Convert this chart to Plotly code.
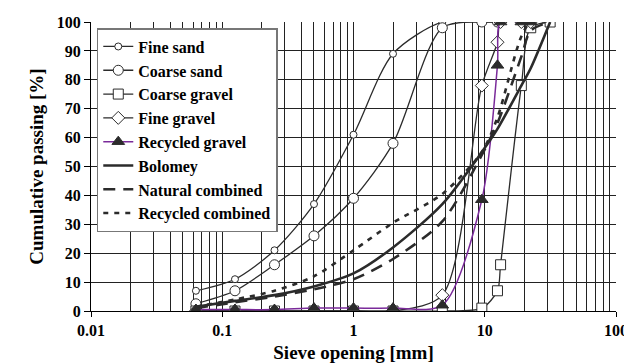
import plotly.graph_objects as go

# ---- data ----
sieve = [0.063, 0.125, 0.25, 0.5, 1, 2, 4.75, 9.5, 12.5, 13.2, 19, 22.4, 31.5]

fine_sand_x = [0.063, 0.125, 0.25, 0.5, 1, 2, 4.75, 9.5, 12.5]
fine_sand = [7, 11, 21, 37, 61, 89, 100, 100, 100]

coarse_sand_x = [0.063, 0.125, 0.25, 0.5, 1, 2, 4.75, 9.5, 12.5]
coarse_sand = [2.5, 7, 16, 26, 39, 58, 98, 100, 100]

coarse_gravel_x = sieve
coarse_gravel = [0, 0, 0, 0, 0, 0, 0, 1, 7, 16, 78, 98, 100]

fine_gravel_x = [0.063, 0.125, 0.25, 0.5, 1, 2, 4.75, 9.5, 12.5, 13.2, 19, 22.4]
fine_gravel = [0, 0, 0, 0, 0, 0, 5.5, 78, 93, 100, 100, 100]

recycled_gravel_x = [0.063, 0.125, 0.25, 0.5, 1, 2, 4.75, 9.5, 12.5, 13.2, 19, 22.4]
recycled_gravel = [0.5, 0.5, 0.5, 1, 1, 1, 2, 38.5, 85, 100, 100, 100]

comb_x = [0.063, 0.125, 0.25, 0.5, 1, 2, 4.75, 9.5, 12.5, 19, 22.4, 31.5]
bolomey = [1.5, 3.5, 5.5, 8.5, 13, 22, 37, 55, 63, 78, 84, 100]
natural_combined = [1, 3, 5, 7.5, 11, 18, 31, 54, 65, 88, 97, 100]
recycled_combined = [1.5, 4, 7, 12, 21, 30.5, 40.5, 55, 67, 95, 100, 100]

decade_ticks = [0.01, 0.1, 1, 10, 100]
decade_labels = ["0.01", "0.1", "1", "10", "100"]
minor_vals = [m * 10 ** e for e in range(-2, 2) for m in range(2, 10)]

DARK = "#2b2b2b"
PURPLE = "#7a2a9a"
FONT = "Liberation Serif, Times New Roman, serif"

fig = go.Figure()

def mtrace(x, y, name, symbol, size, fill="white", color=DARK, lw=1.3):
    fig.add_trace(go.Scatter(
        x=x, y=y, name=name, mode="lines+markers",
        line=dict(color=color, width=lw, shape="spline", smoothing=0.8),
        marker=dict(symbol=symbol, size=size, color=fill,
                    line=dict(color=DARK, width=1)),
    ))

mtrace(fine_sand_x, fine_sand, "Fine sand", "circle", 7)
mtrace(coarse_sand_x, coarse_sand, "Coarse sand", "circle", 10)
mtrace(coarse_gravel_x, coarse_gravel, "Coarse gravel", "square", 10)
mtrace(fine_gravel_x, fine_gravel, "Fine gravel", "diamond", 10)
mtrace(recycled_gravel_x, recycled_gravel, "Recycled gravel", "triangle-up", 11,
       fill=DARK, color=PURPLE, lw=1.5)

def ltrace(y, name, dash):
    fig.add_trace(go.Scatter(
        x=comb_x, y=y, name=name, mode="lines",
        line=dict(color=DARK, width=2.6, dash=dash, shape="spline", smoothing=0.8),
    ))

ltrace(bolomey, "Bolomey", "solid")
ltrace(natural_combined, "Natural combined", "12px,8px")
ltrace(recycled_combined, "Recycled combined", "5px,6px")

fig.update_layout(
    width=632, height=363,
    margin=dict(l=83, r=24, t=14, b=60),
    paper_bgcolor="white", plot_bgcolor="white",
    font=dict(family=FONT, size=16, color="black", weight="bold"),
    showlegend=True,
    legend=dict(
        x=0.011, y=0.979, xanchor="left", yanchor="top",
        bgcolor="white", bordercolor="#777", borderwidth=1.5,
        font=dict(family=FONT, size=16, color="black", weight="bold"),
        tracegroupgap=0, itemwidth=30,
    ),
    xaxis=dict(
        type="log", range=[-2, 2], automargin=False,
        tickvals=decade_ticks, ticktext=decade_labels,
        ticks="outside", ticklen=5, tickcolor="black",
        showline=True, linecolor="black", linewidth=1.3,
        showgrid=True, gridcolor="#222", gridwidth=1,
        minor=dict(tickvals=minor_vals, showgrid=True, gridcolor="#222",
                   gridwidth=1, ticks=""),
        title=dict(text="Sieve opening [mm]", standoff=7),
        zeroline=False,
    ),
    yaxis=dict(
        range=[0, 100], dtick=10, automargin=False,
        ticks="outside", ticklen=6, tickcolor="black",
        showline=True, linecolor="black", linewidth=1.3,
        showgrid=True, gridcolor="#222", gridwidth=1,
        title=dict(text="Cumulative passing [%]", standoff=8),
        zeroline=False,
    ),
)

fig.write_html("out.html")
